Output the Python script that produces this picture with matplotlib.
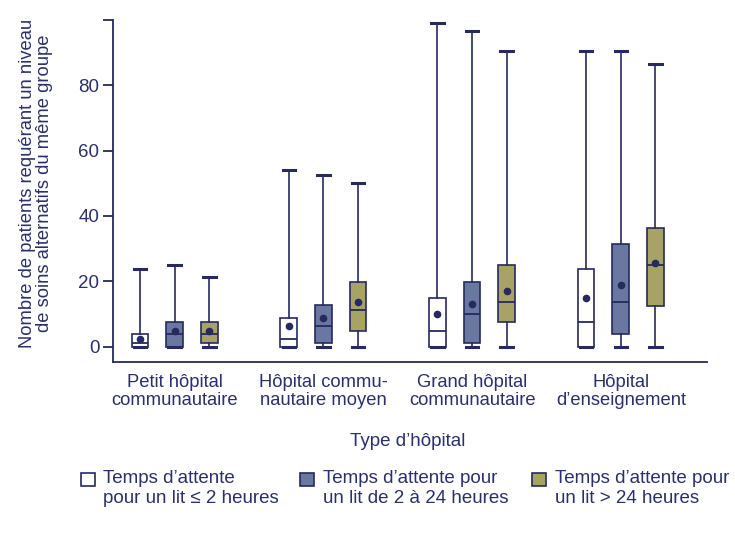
import numpy as np
import matplotlib
matplotlib.use("Agg")
import matplotlib.pyplot as plt
from matplotlib.patches import Rectangle

plt.rcParams['font.family'] = ['Liberation Sans', 'DejaVu Sans']

# -------------------------
# DATA
# -------------------------
hospital_types = ["Petit hôpital\ncommunautaire", "Hôpital commu-\nnautaire moyen",
                  "Grand hôpital\ncommunautaire", "Hôpital\nd’enseignement"]
wait_groups = ["Temps d’attente\npour un lit ≤ 2 heures",
               "Temps d’attente pour\nun lit de 2 à 24 heures",
               "Temps d’attente pour\nun lit > 24 heures"]

# one row per hospital type, one column per waiting-time group
whis_low = [[0, 0, 0], [0, 0, 0], [0, 0, 0], [0, 0, 0]]
q1 = [[0, 0, 1.2], [0, 1.2, 4.9], [0, 1.2, 7.5], [0, 3.8, 12.5]]
median = [[1.2, 3.8, 3.8], [2.4, 6.2, 11.2], [4.9, 10.0, 13.8], [7.5, 13.8, 25.1]]
q3 = [[3.8, 7.5, 7.5], [8.7, 12.6, 19.9], [15.0, 19.9, 25.0], [23.8, 31.3, 36.3]]
whis_high = [[23.9, 25.0, 21.4], [54.0, 52.6, 50.2], [99.2, 96.6, 90.4], [90.4, 90.4, 86.6]]
mean = [[2.4, 4.8, 4.8], [6.2, 8.9, 13.8], [10.0, 13.2, 17.0], [14.9, 19.0, 25.5]]

fills = ["#ffffff", "#6a77a0", "#a7a365"]
navy = "#262a5e"
text_col = "#2b2f6b"

W, H = 735, 539

# -------------------------
# PLOT
# -------------------------
fig = plt.figure(figsize=(W / 100, H / 100), dpi=100)
ax = fig.add_axes([113.3 / W, 1 - 362 / H, (706.7 - 113.3) / W, (362 - 20) / H])

offset = 0.233
width = 0.112
for j in range(3):
    stats = []
    for i in range(4):
        stats.append(dict(med=median[i][j], q1=q1[i][j], q3=q3[i][j],
                          whislo=whis_low[i][j], whishi=whis_high[i][j],
                          mean=mean[i][j], fliers=[]))
    pos = np.arange(4) + (j - 1) * offset
    ax.bxp(stats, positions=pos, widths=width, patch_artist=True,
           showmeans=True, manage_ticks=False,
           boxprops=dict(facecolor=fills[j], edgecolor=navy, linewidth=1.2),
           medianprops=dict(color=navy, linewidth=1.3),
           whiskerprops=dict(color=navy, linewidth=1.2),
           capprops=dict(color=navy, linewidth=2.2),
           capwidths=width * 0.75,
           meanprops=dict(marker='o', markerfacecolor=navy, markeredgecolor=navy,
                          markersize=4.5))

ax.set_xlim(-0.413, 3.578)
ax.set_ylim(-4.7, 100)
ax.set_yticks([0, 20, 40, 60, 80, 100])
ax.set_yticklabels(["0", "20", "40", "60", "80", ""])
ax.set_xticks([])
for s in ["top", "right"]:
    ax.spines[s].set_visible(False)
for s in ["left", "bottom"]:
    ax.spines[s].set_color(navy)
    ax.spines[s].set_linewidth(1.3)
ax.tick_params(axis='y', colors=navy, labelcolor=text_col, labelsize=13.5,
               length=7, width=1.3, pad=3)

for i, name in enumerate(hospital_types):
    ax.text(i, -8.3, name, ha='center', va='top', fontsize=13.2, color=text_col,
            linespacing=1.12)

fig.text(36 / W, 1 - 183 / H,
         "Nombre de patients requérant un niveau\nde soins alternatifs du même groupe",
         rotation=90, ha='center', va='center', fontsize=13.2, color=text_col,
         linespacing=1.0, multialignment='center')
fig.text(408 / W, 1 - 441 / H, "Type d’hôpital", ha='center', va='center',
         fontsize=13.5, color=text_col)

# legend drawn by hand: square + two-line label
sq_x = [81, 300, 532]
txt_x = [103, 323, 555]
for k in range(3):
    fig.patches.append(Rectangle((sq_x[k] / W, 1 - 486 / H), 13.5 / W, 13.5 / H,
                                 transform=fig.transFigure, facecolor=fills[k],
                                 edgecolor=navy, linewidth=1.2))
    fig.text(txt_x[k] / W, 1 - 470 / H, wait_groups[k], ha='left', va='top',
             fontsize=13.5, color=text_col, linespacing=1.2)

fig.savefig("out.png", dpi=100)
